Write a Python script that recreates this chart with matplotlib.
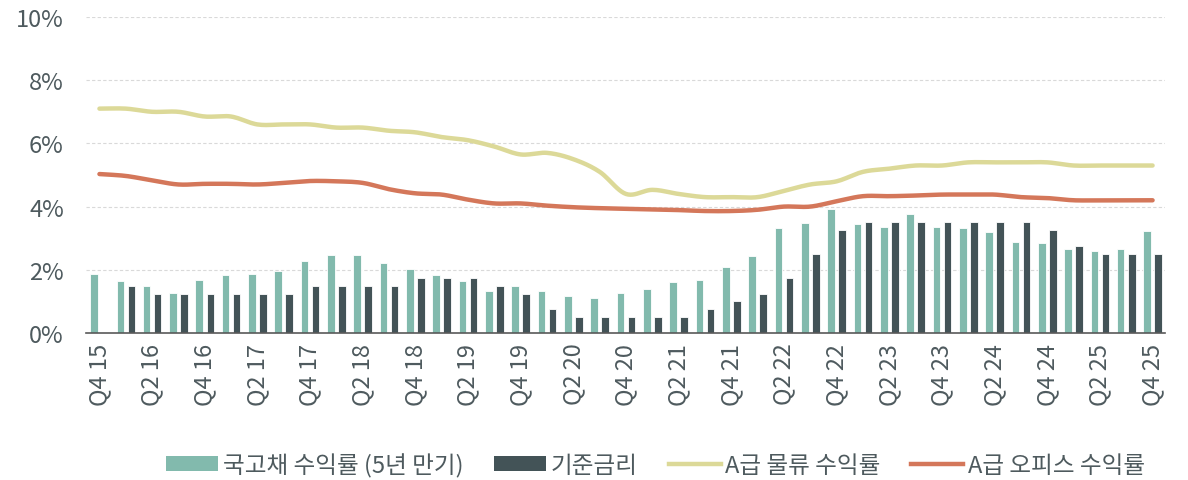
import numpy as np
import matplotlib
matplotlib.use("Agg")
import matplotlib.pyplot as plt
from matplotlib.lines import Line2D
from matplotlib.patches import Patch

plt.rcParams['font.family'] = ['Noto Sans CJK KR', 'DejaVu Sans']

quarters = ["Q4 15", "Q1 16", "Q2 16", "Q3 16", "Q4 16", "Q1 17", "Q2 17", "Q3 17", "Q4 17",
            "Q1 18", "Q2 18", "Q3 18", "Q4 18", "Q1 19", "Q2 19", "Q3 19", "Q4 19",
            "Q1 20", "Q2 20", "Q3 20", "Q4 20", "Q1 21", "Q2 21", "Q3 21", "Q4 21",
            "Q1 22", "Q2 22", "Q3 22", "Q4 22", "Q1 23", "Q2 23", "Q3 23", "Q4 23",
            "Q1 24", "Q2 24", "Q3 24", "Q4 24", "Q1 25", "Q2 25", "Q3 25", "Q4 25"]

treasury_5y = [1.86, 1.64, 1.49, 1.27, 1.67, 1.85, 1.86, 1.96, 2.29, 2.48, 2.46, 2.23, 2.03,
               1.85, 1.66, 1.32, 1.49, 1.34, 1.16, 1.12, 1.26, 1.40, 1.62, 1.68, 2.09, 2.45,
               3.32, 3.49, 3.91, 3.44, 3.37, 3.76, 3.35, 3.33, 3.19, 2.87, 2.84, 2.67, 2.59,
               2.66, 3.23]

base_rate = [np.nan, 1.50, 1.25, 1.25, 1.25, 1.25, 1.25, 1.25, 1.50, 1.50, 1.50, 1.50, 1.75,
             1.75, 1.75, 1.50, 1.25, 0.75, 0.50, 0.50, 0.50, 0.50, 0.50, 0.75, 1.00, 1.25,
             1.75, 2.50, 3.25, 3.50, 3.50, 3.50, 3.50, 3.50, 3.50, 3.50, 3.25, 2.75, 2.50,
             2.50, 2.50]

logistics_yield = [7.10, 7.10, 7.00, 7.00, 6.85, 6.85, 6.60, 6.60, 6.60, 6.50, 6.50, 6.40, 6.35,
                   6.20, 6.10, 5.90, 5.65, 5.70, 5.50, 5.10, 4.40, 4.53, 4.40, 4.30, 4.30, 4.30,
                   4.50, 4.70, 4.80, 5.10, 5.20, 5.30, 5.30, 5.40, 5.40, 5.40, 5.40, 5.30, 5.30,
                   5.30, 5.30]

office_yield = [5.03, 4.97, 4.83, 4.70, 4.72, 4.72, 4.70, 4.75, 4.81, 4.80, 4.75, 4.55, 4.42,
                4.38, 4.22, 4.10, 4.10, 4.03, 3.98, 3.95, 3.93, 3.91, 3.89, 3.86, 3.86, 3.90,
                4.00, 4.00, 4.17, 4.33, 4.33, 4.35, 4.38, 4.38, 4.38, 4.30, 4.27, 4.20, 4.20,
                4.20, 4.20]

labels = ["국고채 수익률 (5년 만기)", "기준금리", "A급 물류 수익률", "A급 오피스 수익률"]

C_GREEN = "#82BAAD"
C_DARK = "#435357"
C_YELLOW = "#DCD998"
C_ORANGE = "#D4775A"
C_TEXT = "#4E5A5E"


def smooth(x, y, n=12):
    """Catmull-Rom rendering of a line through the given points (Excel-like smoothing)."""
    x = np.asarray(x, float)
    y = np.asarray(y, float)
    px = np.concatenate([[2 * x[0] - x[1]], x, [2 * x[-1] - x[-2]]])
    py = np.concatenate([[2 * y[0] - y[1]], y, [2 * y[-1] - y[-2]]])
    xs, ys = [], []
    t = np.linspace(0, 1, n, endpoint=False)
    for i in range(1, len(px) - 2):
        def cr(a0, a1, a2, a3):
            return 0.5 * ((2 * a1) + (-a0 + a2) * t + (2 * a0 - 5 * a1 + 4 * a2 - a3) * t ** 2
                          + (-a0 + 3 * a1 - 3 * a2 + a3) * t ** 3)
        xs.append(cr(px[i - 1], px[i], px[i + 1], px[i + 2]))
        ys.append(cr(py[i - 1], py[i], py[i + 1], py[i + 2]))
    xs.append([x[-1]])
    ys.append([y[-1]])
    return np.concatenate(xs), np.concatenate(ys)


fig = plt.figure(figsize=(11.88, 4.81), dpi=100)
ax = fig.add_axes([0.0724, 0.3056, 0.9082, 0.657])

x = np.arange(len(quarters))
bw = 0.285
off = 0.209
ax.bar(x - off, treasury_5y, width=bw, color=C_GREEN, edgecolor="white", linewidth=0.6, zorder=3)
ax.bar(x + off, base_rate, width=bw, color=C_DARK, edgecolor="white", linewidth=0.6, zorder=3)

sx, sy = smooth(x, logistics_yield)
ax.plot(sx, sy, color=C_YELLOW, lw=3.2, solid_capstyle="round", zorder=4)
sx, sy = smooth(x, office_yield)
ax.plot(sx, sy, color=C_ORANGE, lw=3.2, solid_capstyle="round", zorder=4)

ax.set_xlim(-0.51, 40.47)
ax.set_ylim(0, 10)
ax.set_yticks([0, 2, 4, 6, 8, 10])
ax.set_yticklabels(["0%", "2%", "4%", "6%", "8%", "10%"])
ax.set_xticks(x[::2])
ax.set_xticklabels(quarters[::2], rotation=90)
ax.tick_params(axis="both", length=0, colors=C_TEXT, labelsize=17)
ax.tick_params(axis="y", pad=16)
ax.tick_params(axis="x", pad=7)

ax.grid(axis="y", color="#D9D9D9", linestyle=(0, (3, 2)), linewidth=0.8, zorder=0)
for s in ["top", "right", "left"]:
    ax.spines[s].set_visible(False)
ax.spines["bottom"].set_color("#595959")
ax.spines["bottom"].set_linewidth(1.2)
ax.spines["bottom"].set_zorder(5)

handles = [Patch(facecolor=C_GREEN, edgecolor="none"),
           Patch(facecolor=C_DARK, edgecolor="none"),
           Line2D([], [], color=C_YELLOW, lw=3.2),
           Line2D([], [], color=C_ORANGE, lw=3.2)]
leg = fig.legend(handles, labels, loc="center", bbox_to_anchor=(0.552, 0.031), ncol=4,
                 frameon=False, fontsize=17, handlelength=2.2, handleheight=0.6,
                 columnspacing=1.3, handletextpad=0.2, labelcolor=C_TEXT)

fig.savefig("out.png", dpi=100)
